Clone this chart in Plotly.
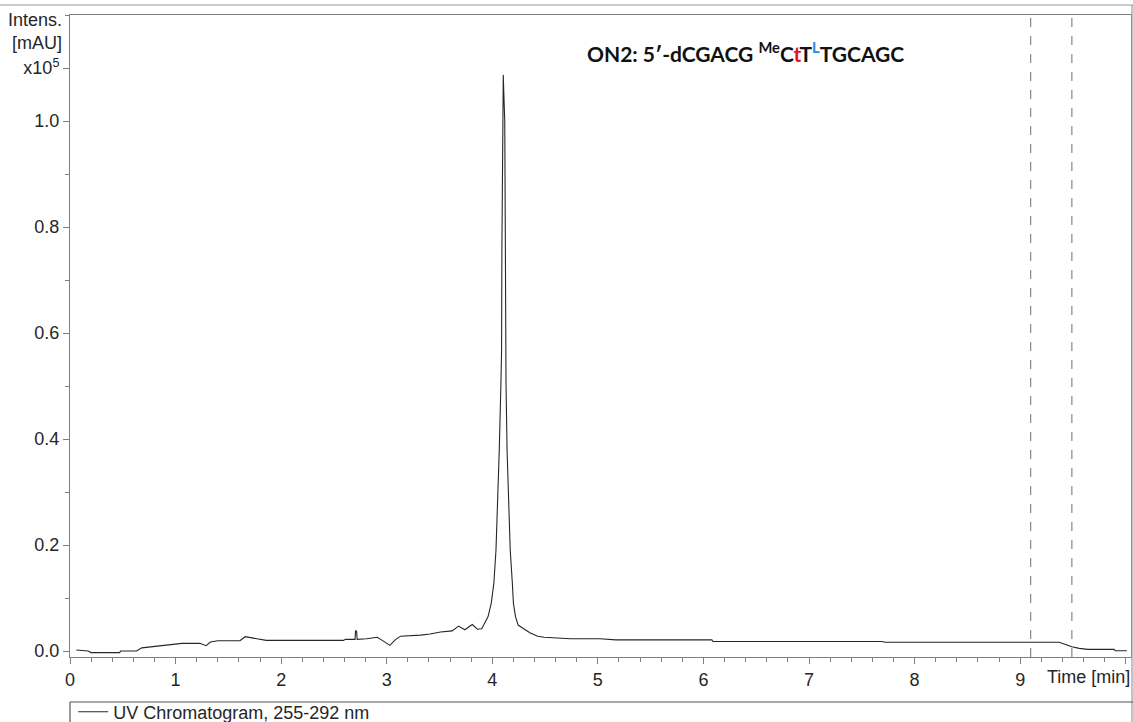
import plotly.graph_objects as go

# ---- data (time in min, intensity in x10^5 mAU) ----
time_min = [0.06, 0.17, 0.20, 0.47, 0.48, 0.63, 0.68, 0.82, 0.95, 1.06, 1.23, 1.29, 1.33, 1.40,
            1.61, 1.66, 1.77, 1.86, 2.59, 2.61, 2.70, 2.705, 2.715, 2.72, 2.81, 2.91, 2.95, 3.03,
            3.08, 3.13, 3.32, 3.41, 3.51, 3.62, 3.68, 3.74, 3.81, 3.86, 3.90, 3.93, 3.96, 3.99,
            4.015, 4.035, 4.047, 4.066, 4.082, 4.088, 4.091, 4.096, 4.104, 4.108, 4.118, 4.124,
            4.127, 4.13, 4.14, 4.157, 4.17, 4.19, 4.20, 4.22, 4.245, 4.29, 4.36, 4.43, 4.49,
            4.74, 5.02, 5.17, 6.08, 6.09, 7.69, 7.72, 9.37, 9.45, 9.49, 9.56, 9.64, 9.89, 9.90,
            10.01]
intensity = [0.002, 0.0, -0.003, -0.003, 0.0, 0.0, 0.006, 0.009, 0.012, 0.0145, 0.0145, 0.010,
             0.017, 0.0195, 0.0195, 0.027, 0.023, 0.020, 0.020, 0.022, 0.022, 0.038, 0.037, 0.022,
             0.023, 0.026, 0.021, 0.0106, 0.021, 0.028, 0.030, 0.032, 0.036, 0.038, 0.047, 0.040,
             0.050, 0.041, 0.042, 0.053, 0.065, 0.09, 0.128, 0.19, 0.253, 0.379, 0.506, 0.568,
             0.76, 1.00, 1.087, 1.06, 1.00, 0.76, 0.568, 0.506, 0.379, 0.253, 0.19, 0.128, 0.09,
             0.065, 0.049, 0.043, 0.034, 0.028, 0.026, 0.023, 0.023, 0.021, 0.021, 0.018, 0.018,
             0.0165, 0.0164, 0.011, 0.008, 0.005, 0.003, 0.003, 0.0005, 0.0005]

x_tick_vals = [0, 1, 2, 3, 4, 5, 6, 7, 8, 9, 10]
x_tick_text = ["0", "1", "2", "3", "4", "5", "6", "7", "8", "9", " "]
y_tick_vals = [0.0, 0.2, 0.4, 0.6, 0.8, 1.0, 1.1]
y_tick_text = ["0.0", "0.2", "0.4", "0.6", "0.8", "1.0", "x10<sup>5</sup>"]
marker_times = [9.10, 9.49]

FONT = "Arial, Liberation Sans, sans-serif"
AXC = "#7f7f7f"
FRAME = "#9a9a9a"
TXT = "#262626"

fig = go.Figure()
fig.add_trace(go.Scatter(x=time_min, y=intensity, mode="lines",
                         line=dict(color="#262626", width=1.1),
                         name="UV Chromatogram, 255-292 nm", showlegend=True))

W, H = 1133, 722
L, R, T, B = 70, 2, 15, 65
pw, ph = W - L - R, H - T - B


def px(xp):
    return (xp - L) / pw


def py(yp):
    return (H - B - yp) / ph


shapes = []
for t in marker_times:
    shapes.append(dict(type="line", xref="x", yref="paper", x0=t, x1=t, y0=0, y1=1,
                       line=dict(color="#6e6e6e", width=1, dash="dash")))
# outer frame lines
shapes.append(dict(type="line", xref="paper", yref="paper", x0=px(0), x1=px(W), y0=py(5), y1=py(5),
                   line=dict(color=FRAME, width=1.2)))
shapes.append(dict(type="line", xref="paper", yref="paper", x0=px(1132), x1=px(1132), y0=py(5), y1=py(H),
                   line=dict(color=FRAME, width=1.2)))
shapes.append(dict(type="line", xref="paper", yref="paper", x0=px(70), x1=px(W), y0=py(702), y1=py(702),
                   line=dict(color="#555555", width=1.2)))
shapes.append(dict(type="line", xref="paper", yref="paper", x0=px(70), x1=px(70), y0=py(702), y1=py(H),
                   line=dict(color="#555555", width=1.2)))

annotations = [
    dict(text="Intens.<br>[mAU]", xref="paper", yref="paper", x=px(64), y=py(8),
         xanchor="right", yanchor="top", showarrow=False, align="right",
         font=dict(family=FONT, size=18, color=TXT)),
    dict(text="Time [min]", xref="paper", yref="paper", x=px(1132), y=py(677),
         xanchor="right", yanchor="middle", showarrow=False,
         font=dict(family=FONT, size=18, color=TXT)),
    dict(text="<b>ON2: 5\u2032-dCGACG <sup>Me</sup>C<span style='color:#e8141c'>t</span>T"
              "<sup><span style='color:#2f86d6'>L</span></sup>TGCAGC</b>",
         xref="paper", yref="paper", x=px(585), y=py(52), xanchor="left", yanchor="middle",
         showarrow=False, font=dict(family="Lato, Open Sans, sans-serif", size=21, color="#111111")),
]

fig.update_layout(
    width=W, height=H,
    margin=dict(l=L, r=R, t=T, b=B, autoexpand=False),
    paper_bgcolor="white", plot_bgcolor="white",
    shapes=shapes, annotations=annotations,
    showlegend=True,
    legend=dict(x=0.003, y=py(712), xanchor="left", yanchor="middle",
                font=dict(family=FONT, size=18, color=TXT),
                bgcolor="rgba(0,0,0,0)", borderwidth=0, itemwidth=30,
                tracegroupgap=0),
    font=dict(family=FONT, size=18, color=TXT),
)

fig.update_xaxes(range=[0, 10.05], tickmode="array", tickvals=x_tick_vals, ticktext=x_tick_text,
                 ticks="outside", ticklen=6, tickcolor=AXC, tickwidth=1,
                 showline=True, linecolor=AXC, linewidth=1, mirror=True,
                 showgrid=False, zeroline=False,
                 tickfont=dict(family=FONT, size=18, color=TXT),
                 minor=dict(dtick=0.2, tick0=0, ticks="outside", ticklen=4, tickcolor=AXC,
                            showgrid=False))
fig.update_yaxes(range=[-0.0113, 1.2], tickmode="array", tickvals=y_tick_vals, ticktext=y_tick_text,
                 ticks="outside", ticklen=6, tickcolor=AXC, tickwidth=1,
                 showline=True, linecolor=AXC, linewidth=1, mirror=True,
                 showgrid=False, zeroline=False,
                 tickfont=dict(family=FONT, size=18, color=TXT),
                 minor=dict(dtick=0.1, tick0=0, ticks="outside", ticklen=4, tickcolor=AXC,
                            showgrid=False))

fig.write_html("out.html", config={"displayModeBar": False},
               post_script="document.body.style.margin='0';")
